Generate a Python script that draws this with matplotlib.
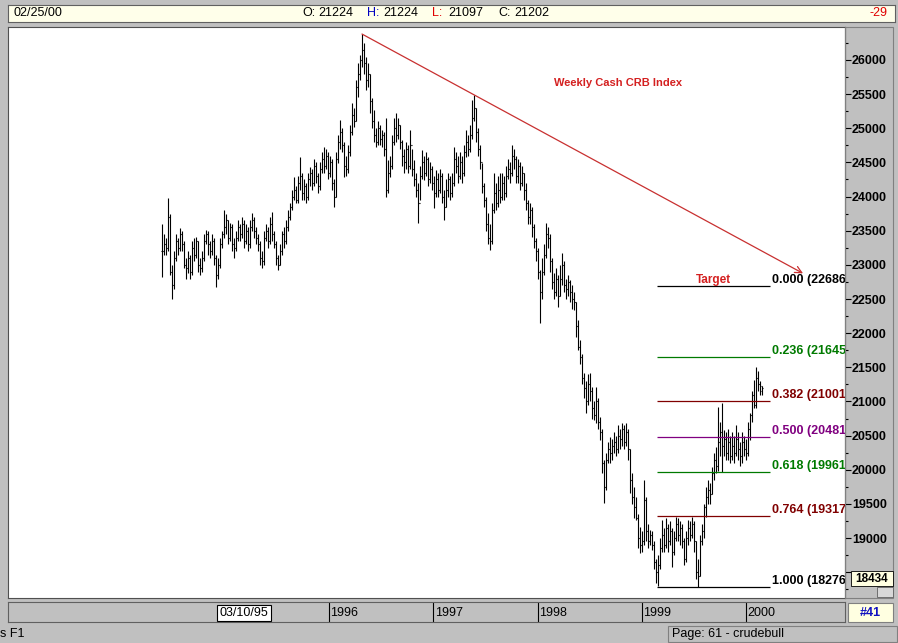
import numpy as np
import pandas as pd
import matplotlib
matplotlib.use("Agg")
import matplotlib.pyplot as plt
import matplotlib.dates as mdates
from matplotlib.patches import Rectangle
from matplotlib.ticker import MultipleLocator

plt.rcParams['font.family'] = ['Liberation Sans', 'DejaVu Sans']

W, H = 898, 643

# weekly cash CRB index bars (last bar = 02/25/00)
closes = [
    23200, 23300, 23250, 23700, 22900, 22700, 23100, 23350, 23250, 23450,
    23300, 23000, 22950, 23100, 22900, 23250, 23150, 23350, 23000, 22950,
    23100, 23350, 23450, 23300, 23200, 23350, 23100, 22850, 23000, 23300,
    23450, 23550, 23650, 23400, 23550, 23300, 23250, 23400, 23550, 23450,
    23600, 23350, 23500, 23300, 23550, 23650, 23500, 23400, 23300, 23100,
    23050, 23400, 23500, 23350, 23600, 23450, 23300, 23100, 23000, 23200,
    23450, 23350, 23550, 23700, 23850, 24000, 24100, 23950, 24200, 24300,
    24050, 24150, 24000, 24250, 24350, 24200, 24450, 24300, 24150, 24400,
    24550, 24450, 24600, 24350, 24500, 24200, 24000, 24550, 24800, 24950,
    24750, 24450, 24400, 24650, 24950, 25200, 25100, 25600, 25800, 26000,
    26150, 25950, 25700, 25800, 25400, 25100, 24900, 24800, 25000, 24850,
    24900, 24700, 24100, 24350, 24450, 24800, 25000, 24900, 25050, 24800,
    24600, 24500, 24700, 24450, 24750, 24400, 24250, 24100, 23900, 24300,
    24500, 24350, 24550, 24250, 24400, 24200, 24050, 24250, 24100, 24300,
    24000, 23850, 24100, 24250, 24050, 24200, 24550, 24450, 24300, 24500,
    24350, 24650, 24800, 24700, 24900, 25150, 25300, 24950, 24700, 24500,
    24150, 23950, 23600, 23400, 23350, 23800, 24050, 23900, 24100, 24000,
    24200, 24050, 24300, 24400, 24350, 24600, 24550, 24300, 24450, 24200,
    24350, 24100, 23900, 23700, 23800, 23550, 23350, 23200, 22900, 22600,
    22900, 23150, 23450, 23400, 23050, 22750, 22600, 22800, 22550, 22800,
    23000, 22700, 22650, 22750, 22600, 22500, 22450, 22100, 21800, 21650,
    21350, 21200, 21000, 21250, 21150, 20900, 20800, 21000, 20700, 20550,
    20100, 19750, 20150, 20300, 20250, 20350, 20400, 20300, 20500, 20450,
    20600, 20400, 20550, 20300, 19850, 19600, 19450, 19300, 19000, 18900,
    18950, 19550, 19100, 18950, 19050, 18900, 18650, 18500, 18600, 18850,
    19050, 18900, 19150, 18950, 19100, 18800, 19000, 19200, 19050, 19150,
    18950, 18700, 19000, 19150, 19050, 19200, 18950, 18500, 18450, 18950,
    19100, 19450, 19600, 19700, 19650, 19950, 20150, 20050, 20400, 20550,
    20350, 20450, 20250, 20400, 20200, 20350, 20250, 20450, 20300, 20200,
    20400, 20300, 20250, 20600, 20800, 21100, 20950, 21350, 21250, 21150,
    21202,
]
highs = [
    23600, 23450, 23400, 23980, 23750, 23000, 23200, 23450, 23400, 23540,
    23500, 23350, 23100, 23200, 23150, 23350, 23400, 23410, 23350, 23100,
    23200, 23450, 23510, 23500, 23350, 23450, 23400, 23150, 23100, 23400,
    23500, 23800, 23750, 23650, 23620, 23600, 23400, 23500, 23650, 23600,
    23700, 23650, 23600, 23550, 23650, 23760, 23700, 23550, 23450, 23350,
    23200, 23500, 23600, 23550, 23700, 23780, 23500, 23350, 23150, 23300,
    23500, 23550, 23650, 23800, 23900, 24100, 24290, 24150, 24300, 24580,
    24350, 24250, 24200, 24350, 24430, 24400, 24550, 24500, 24350, 24500,
    24650, 24725, 24700, 24650, 24600, 24550, 24250, 24650, 24900, 25120,
    25000, 24800, 24600, 24750, 25050, 25370, 25300, 25700, 25950, 26070,
    26380, 26250, 26050, 25950, 25800, 25450, 25270, 25000, 25100, 25050,
    24980, 24950, 25150, 24540, 24600, 24900, 25150, 25220, 25150, 25050,
    24830, 24700, 24800, 24750, 24980, 24700, 24540, 24350, 24200, 24450,
    24680, 24600, 24650, 24580, 24500, 24450, 24300, 24390, 24350, 24400,
    24350, 24100, 24250, 24350, 24300, 24350, 24730, 24650, 24600, 24650,
    24600, 24750, 24980, 24900, 25050, 25410, 25490, 25300, 25000, 24750,
    24490, 24200, 24000, 23760, 23600, 23900, 24350, 24200, 24300, 24350,
    24350, 24300, 24450, 24550, 24500, 24760, 24700, 24600, 24550, 24500,
    24450, 24350, 24200, 23950, 23900, 23850, 23600, 23400, 23250, 22930,
    23100, 23300, 23610, 23550, 23450, 23100, 22880, 22950, 22850, 23000,
    23170, 23050, 22800, 22850, 22780, 22700, 22600, 22450, 22190, 21900,
    21700, 21420, 21300, 21400, 21420, 21210, 21000, 21210, 21050, 20770,
    20600, 20150, 20250, 20400, 20480, 20450, 20550, 20500, 20650, 20600,
    20690, 20650, 20690, 20600, 20300, 19950, 19750, 19600, 19350, 19160,
    19100, 19850, 19600, 19200, 19120, 19100, 18950, 18700, 18750, 19000,
    19260, 19150, 19300, 19200, 19250, 19150, 19100, 19310, 19300, 19250,
    19200, 19000, 19100, 19260, 19250, 19310, 19250, 18950, 18700, 19050,
    19200, 19500, 19750, 19850, 19800, 20040, 20250, 20330, 20920, 20700,
    20980, 20580, 20550, 20600, 20500, 20550, 20500, 20650, 20550, 20400,
    20550, 20500, 20450, 20700, 20830, 21150, 21320, 21500, 21450, 21300,
    21224,
]
lows = [
    22820, 23150, 23150, 23200, 22850, 22500, 22650, 23050, 23150, 23200,
    23200, 22950, 22800, 22880, 22800, 22850, 23050, 23100, 22900, 22850,
    22900, 23050, 23300, 23150, 23100, 23150, 23000, 22680, 22800, 22950,
    23250, 23400, 23450, 23300, 23350, 23200, 23100, 23200, 23350, 23350,
    23400, 23250, 23300, 23200, 23250, 23500, 23400, 23300, 23200, 23000,
    22960, 23000, 23350, 23250, 23300, 23350, 23250, 23000, 22930, 23000,
    23150, 23250, 23300, 23500, 23650, 23800, 23950, 23900, 23900, 24100,
    23950, 23950, 23900, 23950, 24150, 24100, 24150, 24200, 24050, 24100,
    24350, 24350, 24400, 24250, 24290, 24100, 23850, 24000, 24490, 24700,
    24650, 24290, 24300, 24350, 24600, 24900, 25020, 25100, 25460, 25700,
    25900, 25800, 25560, 25600, 25220, 25000, 24800, 24730, 24750, 24750,
    24730, 24600, 23990, 24050, 24290, 24400, 24750, 24800, 24850, 24700,
    24450, 24350, 24400, 24350, 24400, 24300, 24150, 23990, 23610, 23950,
    24250, 24240, 24300, 24150, 24200, 24100, 23830, 24000, 24000, 24050,
    23900, 23660, 23850, 24000, 23950, 24000, 24150, 24350, 24200, 24250,
    24200, 24300, 24580, 24600, 24650, 24850, 25100, 24800, 24600, 24400,
    24050, 23850, 23500, 23300, 23220, 23300, 23760, 23800, 23850, 23900,
    23950, 23950, 24000, 24250, 24200, 24300, 24400, 24200, 24200, 24100,
    24150, 23950, 23800, 23600, 23600, 23410, 23250, 23050, 22800, 22150,
    22500, 22850, 23100, 23250, 22900, 22650, 22500, 22550, 22380, 22550,
    22700, 22600, 22500, 22550, 22450, 22350, 22340, 21950, 21750, 21550,
    21250, 21050, 20830, 20950, 21000, 20750, 20730, 20690, 20600, 20440,
    19950, 19510, 19700, 20100, 20100, 20150, 20250, 20200, 20250, 20300,
    20350, 20300, 20350, 20150, 19660, 19500, 19300, 19260, 18850, 18780,
    18800, 18900, 18950, 18850, 18900, 18830, 18550, 18340, 18300, 18550,
    18800, 18800, 18850, 18800, 18900, 18570, 18750, 18950, 18950, 18900,
    18850, 18600, 18650, 18900, 18950, 19000, 18800, 18400, 18276, 18450,
    18900, 19000, 19310, 19500, 19500, 19650, 19850, 19950, 19980, 20200,
    19960, 20200, 20150, 20140, 20100, 20150, 20100, 20200, 20150, 20050,
    20100, 20200, 20150, 20200, 20440, 20700, 20900, 20900, 21150, 21100,
    21097,
]
last_date = "2000-02-25"

fib_ratios = ["0.000", "0.236", "0.382", "0.500", "0.618", "0.764", "1.000"]
fib_levels = [22686, 21645, 21001, 20481, 19961, 19317, 18276]
fib_colors = ["black", "#007a00", "#800000", "#800080", "#007a00", "#800000", "black"]

year_labels = ["1996", "1997", "1998", "1999", "2000"]
price_ticks = list(range(18500, 26001, 500))
quote = [("O:", 21224, "black"), ("H:", 21224, "#0000c0"),
         ("L:", 21097, "#e00000"), ("C:", 21202, "black")]
change = -29
cursor_date = "1995-03-10"
cursor_price = 18434


def box(x0, y0, x1, y1):
    # pixel box (top-left origin) -> figure fraction rect
    return [x0 / W, 1 - y1 / H, (x1 - x0) / W, (y1 - y0) / H]


def fig_rect(fig, x0, y0, x1, y1, fc, ec, lw=0.8, z=1):
    fig.patches.append(Rectangle((x0 / W, 1 - y1 / H), (x1 - x0) / W, (y1 - y0) / H,
                                 transform=fig.transFigure, facecolor=fc,
                                 edgecolor=ec, linewidth=lw, zorder=z))


fig = plt.figure(figsize=(W / 100, H / 100), dpi=100, facecolor="#c0c0c0")

dates = pd.date_range(end=last_date, periods=len(closes), freq="W-FRI")
x = mdates.date2num(dates)
opens = [closes[0]] + closes[:-1]
opens[-1] = quote[0][1]
px_days = 3.5  # one pixel is about half a week

# ===== MAIN PRICE PANEL =====
ax = fig.add_axes(box(8, 27, 845, 598))
ax.set_facecolor("white")
ax.set_xlim(x[-1] - 754 * px_days, x[-1] + 83 * px_days)
ax.set_ylim(18122, 26483)

ax.vlines(x, lows, highs, color="black", lw=0.8)
ax.hlines(closes, x, x + 3.0, color="black", lw=0.8)
ax.hlines(opens, x - 3.0, x, color="black", lw=0.8)

# fibonacci retracement levels
i_low = 248
fib_x0 = x[i_low] - px_days
fib_x1 = x[-1] + 8 * px_days
ax.hlines(fib_levels, fib_x0, fib_x1, colors=fib_colors, lw=0.9)
for ratio, level, col in zip(fib_ratios, fib_levels, fib_colors):
    ax.text(fib_x1 + 2 * px_days, level, f"{ratio} ({level})", color=col,
            fontsize=9, fontweight="bold", va="bottom", ha="left", clip_on=True)
ax.text((fib_x0 + fib_x1) / 2, fib_levels[0] + 10, "Target", color="#d42020",
        fontsize=8.5, fontweight="bold", ha="center", va="bottom")

# trend line through the two major highs, extended with an arrow
i1 = int(np.argmax(highs))
i2 = i1 + 20 + int(np.argmax(highs[i1 + 20:]))
slope = (highs[i2] - highs[i1]) / (x[i2] - x[i1])
x_end = x[-1] + 41 * px_days
y_end = highs[i1] + slope * (x_end - x[i1])
ax.annotate("", xy=(x_end, y_end), xytext=(x[i1], highs[i1]),
            arrowprops=dict(arrowstyle="->", color="#c83030", lw=0.9,
                            shrinkA=0, shrinkB=0, mutation_scale=12))

ax.text(0.652, 0.902, "Weekly Cash CRB Index", transform=ax.transAxes,
        color="#d42020", fontsize=8, fontweight="bold", ha="left", va="center")

ax.yaxis.tick_right()
ax.set_yticks(price_ticks)
# lowest label sits under the cursor price box
ax.set_yticklabels([""] + [str(p) for p in price_ticks[1:]])
ax.yaxis.set_minor_locator(MultipleLocator(250))
ax.tick_params(axis="y", which="major", length=4, width=0.8, pad=1, labelsize=9)
ax.tick_params(axis="y", which="minor", length=2, width=0.8)
for lab in ax.get_yticklabels():
    lab.set_fontweight("bold")
ax.tick_params(axis="x", bottom=False, labelbottom=False)
for side in ["left", "top", "bottom"]:
    ax.spines[side].set_color("#505050")
ax.spines["right"].set_color("black")

# right scale panel border and cursor price box
fig_rect(fig, 845, 27, 893, 598, "none", "#808080")
fig_rect(fig, 851, 571, 893, 586, "#ffffe1", "black", 0.6, 3)
fig.text(872 / W, 1 - 578.5 / H, str(cursor_price), ha="center", va="center",
         fontsize=8.5, fontweight="bold", zorder=4)
fig_rect(fig, 877, 587, 893, 597, "#d8d8d8", "#606060", 0.6, 3)

# ===== TOP QUOTE BAR =====
axt = fig.add_axes(box(8, 5, 895, 22))
axt.set_facecolor("#ffffea")
axt.set_xticks([])
axt.set_yticks([])
for s in axt.spines.values():
    s.set_color("#606060")
ty = 1 - 13.5 / H
fig.text(13 / W, ty, "02/25/00", fontsize=9, va="center")
for (lab, val, col), px in zip(quote, [302, 367, 432, 498]):
    fig.text(px / W, ty, lab, color=col, fontsize=9, va="center")
    fig.text((px + 16) / W, ty, str(val), fontsize=9, va="center")
fig.text(887 / W, ty, str(change), color="#e00000", fontsize=9, va="center", ha="right")

# ===== DATE BAR =====
axd = fig.add_axes(box(8, 602, 845, 622))
axd.set_facecolor("#c0c0c0")
axd.set_xlim(ax.get_xlim())
axd.set_ylim(0, 1)
axd.set_xticks([])
axd.set_yticks([])
for s in axd.spines.values():
    s.set_color("#606060")
for yr in year_labels:
    xd = mdates.date2num(pd.Timestamp(f"{yr}-01-01"))
    axd.axvline(xd, color="black", lw=0.8)
    axd.text(xd + 1.5 * px_days, 0.45, yr, fontsize=9, va="center", ha="left")
axd.text(mdates.date2num(pd.Timestamp(cursor_date)), 0.45,
         pd.Timestamp(cursor_date).strftime("%m/%d/%y"), fontsize=9,
         ha="center", va="center",
         bbox=dict(boxstyle="square,pad=0.18", fc="white", ec="black", lw=0.8))

fig_rect(fig, 848, 603, 893, 622, "#ffffe1", "#808080")
fig.text(870 / W, 1 - 612.5 / H, "#41", color="#1010c0", fontsize=9,
         fontweight="bold", ha="center", va="center")

# ===== STATUS BAR =====
fig.text(0, 1 - 634 / H, "s F1", fontsize=9, va="center")
fig_rect(fig, 668, 626, 897, 642, "none", "#808080")
fig.text(672 / W, 1 - 634 / H, "Page: 61 - crudebull", fontsize=9, va="center")

fig.savefig("out.png", dpi=100, facecolor=fig.get_facecolor())
